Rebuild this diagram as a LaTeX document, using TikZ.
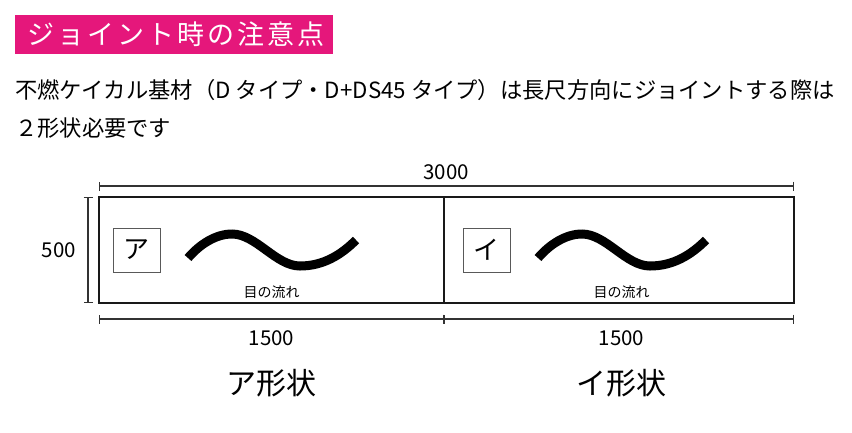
\documentclass[tikz,border=0pt]{standalone}
\usepackage{fontspec}
\setmainfont{Noto Sans CJK JP}
\newfontfamily\titlefont[LetterSpace=11]{Noto Sans CJK JP}
\usetikzlibrary{arrows.meta}
\definecolor{titlepink}{HTML}{E5177B}
\definecolor{dimgray}{HTML}{333333}
\begin{document}
\begin{tikzpicture}[x=1pt,y=-1pt,
  dimline/.style={draw=dimgray,line width=1.3pt,{Bar[width=9pt,line width=1.3pt]}-{Bar[width=9pt,line width=1.3pt]}},
  panel/.style={draw=black!90,line width=1.5pt,inner sep=0pt,minimum height=106pt},
  letterbox/.style={draw=black!65,line width=0.8pt,inner sep=0pt,minimum width=47pt,minimum height=44pt,font=\fontsize{26}{30}\selectfont},
  wave/.style={draw=black,line width=9pt,line cap=butt},
  dimlabel/.style={inner sep=0pt,font=\fontsize{20.5}{24}\selectfont},
  caption/.style={inner sep=0pt,font=\fontsize{14}{16}\selectfont},
  shapename/.style={inner sep=0pt,font=\fontsize{30}{35}\selectfont},
  bodytext/.style={inner sep=0pt,anchor=west,font=\fontsize{22.3}{26}\selectfont}]
\useasboundingbox (0,0) rectangle (852,432);
% title
\node[fill=titlepink,inner sep=0pt,minimum width=318pt,minimum height=39pt] (title) at (174,34.5) {};
\node[text=white,inner sep=0pt,font=\titlefont\fontsize{27}{32}\selectfont] (titletext) at (176,34.5) {ジョイント時の注意点};
% body text
\node[bodytext] (line1) at (15,90) {不燃ケイカル基材（D タイプ・D+DS45 タイプ）は長尺方向にジョイントする際は};
\node[bodytext] (line2) at (15,128) {２形状必要です};
% panels
\node[panel,minimum width=345pt] (pa) at (271.5,250) {};
\node[panel,minimum width=350pt] (pb) at (619,250) {};
% letter boxes
\node[letterbox] (boxa) at (136.5,250) {ア};
\node[letterbox] (boxb) at (486.5,250) {イ};
% waves
\draw[wave] (188,258) .. controls (200,244) and (216,234) .. (232,234)
  .. controls (256,234) and (276,266) .. (300,266)
  .. controls (324,266) and (342,254) .. (356,240);
\draw[wave] (538,258) .. controls (550,244) and (566,234) .. (582,234)
  .. controls (606,234) and (626,266) .. (650,266)
  .. controls (674,266) and (692,254) .. (706,240);
\node[caption] (capa) at (271.5,292) {目の流れ};
\node[caption] (capb) at (621.5,292) {目の流れ};
% dimensions
\coordinate (t1) at (99,186);
\coordinate (t2) at (794,186);
\draw[dimline] (t1) -- (t2);
\node[dimlabel] (d3000) at (446,172) {3000};
\coordinate (l1) at (88,197);
\coordinate (l2) at (88,303);
\draw[dimline] (l1) -- (l2);
\node[dimlabel] (d500) at (59,250) {500};
\coordinate (b1) at (99,319);
\coordinate (b2) at (444,319);
\coordinate (b3) at (794,319);
\draw[dimline] (b1) -- (b2);
\draw[dimline] (b2) -- (b3);
\node[dimlabel] (d1500a) at (271.5,338) {1500};
\node[dimlabel] (d1500b) at (621.5,338) {1500};
% shape names
\node[shapename] (namea) at (271,383) {ア形状};
\node[shapename] (nameb) at (621,383) {イ形状};
\end{tikzpicture}
\end{document}
